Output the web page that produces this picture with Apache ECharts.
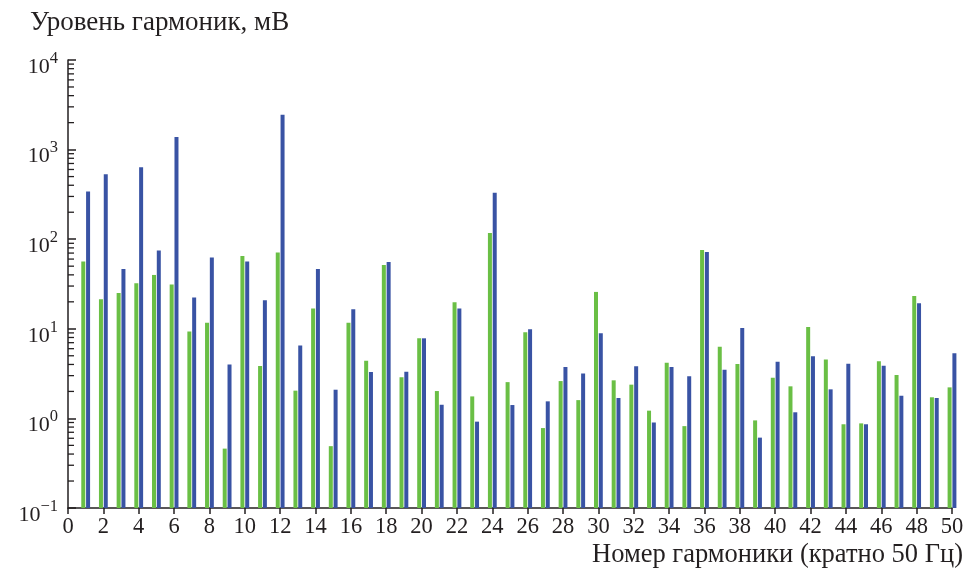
<!DOCTYPE html>
<html><head><meta charset="utf-8">
<script src="https://cdn.jsdelivr.net/npm/echarts@6/dist/echarts.min.js"></script>
<style>html,body{margin:0;padding:0;background:#fff}#c{width:968px;height:577px}</style>
</head><body><div id="c"></div><script>
// ---- data ----
const harmonics = [1,2,3,4,5,6,7,8,9,10,11,12,13,14,15,16,17,18,19,20,21,22,23,24,25,26,27,28,29,30,31,32,33,34,35,36,37,38,39,40,41,42,43,44,45,46,47,48,49,50];
const greenValues = [56.4,21.4,25.1,32.2,39.9,31.2,9.3,11.7,0.46,65.1,
  3.84,71.0,2.04,16.9,0.49,11.7,4.41,51.6,2.87,7.83,
  2.02,19.8,1.76,117.6,2.54,9.14,0.78,2.61,1.60,25.8,
  2.66,2.38,1.22,4.19,0.82,75.9,6.32,4.04,0.95,2.85,
  2.28,10.5,4.53,0.86,0.88,4.33,3.05,23.3,1.72,2.22];
const blueValues = [341,532,46.6,637,74.8,1380,22.3,62.5,4.0,56.4,
  20.8,2448,6.49,46.6,2.09,16.5,3.29,55.7,3.32,7.83,
  1.42,16.9,0.92,329,1.41,9.87,1.55,3.74,3.18,8.91,
  1.69,3.81,0.90,3.74,2.95,72.1,3.50,10.2,0.61,4.30,
  1.17,4.93,2.11,4.08,0.86,3.88,1.79,19.3,1.69,5.33];
const minorTickValues = [0.2,0.3,0.4,0.5,0.6,0.7,0.8,0.9,
  2,3,4,5,6,7,8,9,
  20,30,40,50,60,70,80,90,
  200,300,400,500,600,700,800,900,
  2000,3000,4000,5000,6000,7000,8000,9000];
const yTitle = 'Уровень гармоник, мВ';
const xTitle = 'Номер гармоники (кратно 50 Гц)';
const Y_MIN = 0.1, Y_MAX = 10000, X_MIN = 0, X_MAX = 50, X_STEP = 2;

const INK = '#231f20';
const FONT = '"Liberation Serif", "DejaVu Serif", serif';
const GREEN = '#6abf45';
const BLUE = '#3953a4';

function barRenderer(side) {
  return function (params, api) {
    const x = api.value(0), v = api.value(1);
    const top = api.coord([x, v]);
    const base = api.coord([x, Y_MIN]);
    const w = 4;
    const x0 = side < 0 ? top[0] - 4.4 : top[0] + 0.4;
    return {
      type: 'rect',
      shape: { x: x0, y: top[1], width: w, height: base[1] - top[1] },
      style: { fill: api.visual('color') }
    };
  };
}

const chart = echarts.init(document.getElementById('c'), null, { renderer: 'canvas' });
chart.setOption({
  backgroundColor: '#fff',
  animation: false,
  textStyle: { fontFamily: FONT, color: INK },
  title: [
    { text: yTitle, left: 25, top: 4, textStyle: { fontFamily: FONT, fontSize: 27, fontWeight: 'normal', color: INK } },
    { text: xTitle, right: 0, bottom: 3, textStyle: { fontFamily: FONT, fontSize: 26.5, fontWeight: 'normal', color: INK } }
  ],
  grid: { left: 68, right: 16, top: 60, bottom: 69, containLabel: false },
  xAxis: {
    type: 'value', min: X_MIN, max: X_MAX, interval: X_STEP,
    axisLine: { show: true, lineStyle: { color: INK, width: 1.5 } },
    axisTick: { show: true, length: 6, lineStyle: { color: INK, width: 1.5 } },
    axisLabel: { fontFamily: FONT, fontSize: 22.5, color: INK, margin: 8 },
    splitLine: { show: false }
  },
  yAxis: {
    type: 'log', logBase: 10, min: Y_MIN, max: Y_MAX,
    axisLine: { show: true, lineStyle: { color: INK, width: 1.5 } },
    axisTick: { show: true, inside: true, length: 8, lineStyle: { color: INK, width: 1.5 } },
    splitLine: { show: false },
    axisLabel: {
      margin: 10,
      padding: [8, 0, 0, 0],
      formatter: function (v) {
        const e = Math.round(Math.log10(v));
        return '{b|10}{s|' + (e < 0 ? '\u2212' + (-e) : e) + '}';
      },
      rich: {
        b: { fontFamily: FONT, fontSize: 22, color: INK, verticalAlign: 'bottom', lineHeight: 28 },
        s: { fontFamily: FONT, fontSize: 16.5, color: INK, verticalAlign: 'top', lineHeight: 28 }
      }
    }
  },
  series: [
    {
      type: 'custom', name: 'green', color: GREEN,
      renderItem: barRenderer(-1),
      encode: { x: 0, y: 1 },
      data: harmonics.map((h, i) => [h, greenValues[i]]),
      z: 2
    },
    {
      type: 'custom', name: 'blue', color: BLUE,
      renderItem: barRenderer(1),
      encode: { x: 0, y: 1 },
      data: harmonics.map((h, i) => [h, blueValues[i]]),
      z: 2
    },
    {
      type: 'custom', name: 'minorTicks', silent: true,
      renderItem: function (params, api) {
        const p = api.coord([X_MIN, api.value(1)]);
        return {
          type: 'line',
          shape: { x1: p[0], y1: p[1], x2: p[0] + 6, y2: p[1] },
          style: { stroke: INK, lineWidth: 1.3 }
        };
      },
      encode: { x: 0, y: 1 },
      data: minorTickValues.map(v => [X_MIN, v]),
      z: 3
    }
  ]
});
</script></body></html>
